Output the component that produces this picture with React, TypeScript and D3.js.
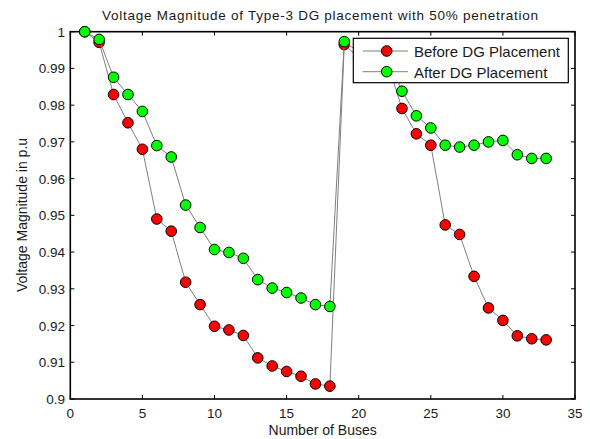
import React from "react";
import * as d3 from "d3";

const buses = d3.range(1, 34);
const beforeDG = [
  1.0, 0.9971, 0.9829, 0.9752, 0.968, 0.949, 0.9457, 0.9318, 0.9257, 0.9198,
  0.9188, 0.9173, 0.9112, 0.909, 0.9075, 0.9062, 0.9041, 0.9035, 0.9965, 0.9929,
  0.9922, 0.9916, 0.9791, 0.9722, 0.9691, 0.9474, 0.9448, 0.9334, 0.9248, 0.9214,
  0.9172, 0.9164, 0.9161,
];
const afterDG = [
  1.0, 0.9979, 0.9876, 0.9829, 0.9783, 0.969, 0.9659, 0.9528, 0.9467, 0.9407,
  0.9399, 0.9383, 0.9325, 0.9302, 0.929, 0.9275, 0.9257, 0.9252, 0.9973, 0.9945,
  0.994, 0.9937, 0.9838, 0.9771, 0.9738, 0.9691, 0.9686, 0.9691, 0.97, 0.9704,
  0.9665, 0.9655, 0.9655,
];
const xTicks = [0, 5, 10, 15, 20, 25, 30, 35];
const yTicks = [0.9, 0.91, 0.92, 0.93, 0.94, 0.95, 0.96, 0.97, 0.98, 0.99, 1];
const seriesNames = ["Before DG Placement", "After DG Placement"];
const seriesColors = ["#ff0000", "#00ff00"];

export default function App() {
  const W = 590, H = 439;
  const L = 70.3, R = 575, T = 31.7, B = 399;
  const x = d3.scaleLinear().domain([0, 35]).range([L, R]);
  const y = d3.scaleLinear().domain([0.9, 1]).range([B, T]);
  const line = d3.line<number>().x((_, i) => x(buses[i])).y((d) => y(d));
  const font = "Arial, 'Liberation Sans', Helvetica, sans-serif";
  const tl = 4;
  const series = [beforeDG, afterDG];
  const lx = 353.3, ly = 38.3, lw = 215, lh = 44.4;
  return (
    <svg width={W} height={H} style={{ position: "absolute", left: 0, top: 0, background: "#fff" }} fontFamily={font} fill="#1a1a1a">
      <rect x={0} y={0} width={W} height={H} fill="#fff" />
      <text x={320} y={19.5} textAnchor="middle" fontSize={13.5} textLength={436} lengthAdjust="spacing">
        Voltage Magnitude of Type-3 DG placement with 50% penetration
      </text>
      {xTicks.map((t) => (
        <g key={"xt" + t}>
          <line x1={x(t)} x2={x(t)} y1={B} y2={B - tl} stroke="#000" strokeWidth={1} />
          <line x1={x(t)} x2={x(t)} y1={T} y2={T + tl} stroke="#000" strokeWidth={1} />
          <text x={x(t)} y={418} textAnchor="middle" fontSize={13.5}>{t}</text>
        </g>
      ))}
      {yTicks.map((t) => (
        <g key={"yt" + t}>
          <line x1={L} x2={L + tl} y1={y(t)} y2={y(t)} stroke="#000" strokeWidth={1} />
          <line x1={R} x2={R - tl} y1={y(t)} y2={y(t)} stroke="#000" strokeWidth={1} />
          <text x={65} y={y(t) + 5} textAnchor="end" fontSize={13.5}>{String(+t.toFixed(2))}</text>
        </g>
      ))}
      <rect x={L} y={T} width={R - L} height={B - T} fill="none" stroke="#000" strokeWidth={1.6} />
      {series.map((s, si) => (
        <g key={"s" + si}>
          <path d={line(s) || ""} fill="none" stroke="#7f7f7f" strokeWidth={1} />
          {s.map((v, i) => (
            <circle key={i} cx={x(buses[i])} cy={y(v)} r={5.3} fill={seriesColors[si]} stroke="#000" strokeWidth={1} />
          ))}
        </g>
      ))}
      <rect x={lx} y={ly} width={lw} height={lh} fill="#fff" stroke="#000" strokeWidth={1.2} />
      {seriesNames.map((n, i) => (
        <g key={"lg" + i}>
          <line x1={lx + 9.4} x2={lx + 54.7} y1={51 + i * 20.7} y2={51 + i * 20.7} stroke="#7f7f7f" strokeWidth={1} />
          <circle cx={lx + 33.4} cy={51 + i * 20.7} r={5.3} fill={seriesColors[i]} stroke="#000" strokeWidth={1} />
          <text x={414} y={57 + i * 20.7} fontSize={15}>{n}</text>
        </g>
      ))}
      <text x={(L + R) / 2} y={435} textAnchor="middle" fontSize={14}>Number of Buses</text>
      <text transform={`translate(26.5,215) rotate(-90)`} textAnchor="middle" fontSize={14}>
        Voltage Magnitude in p.u
      </text>
    </svg>
  );
}
